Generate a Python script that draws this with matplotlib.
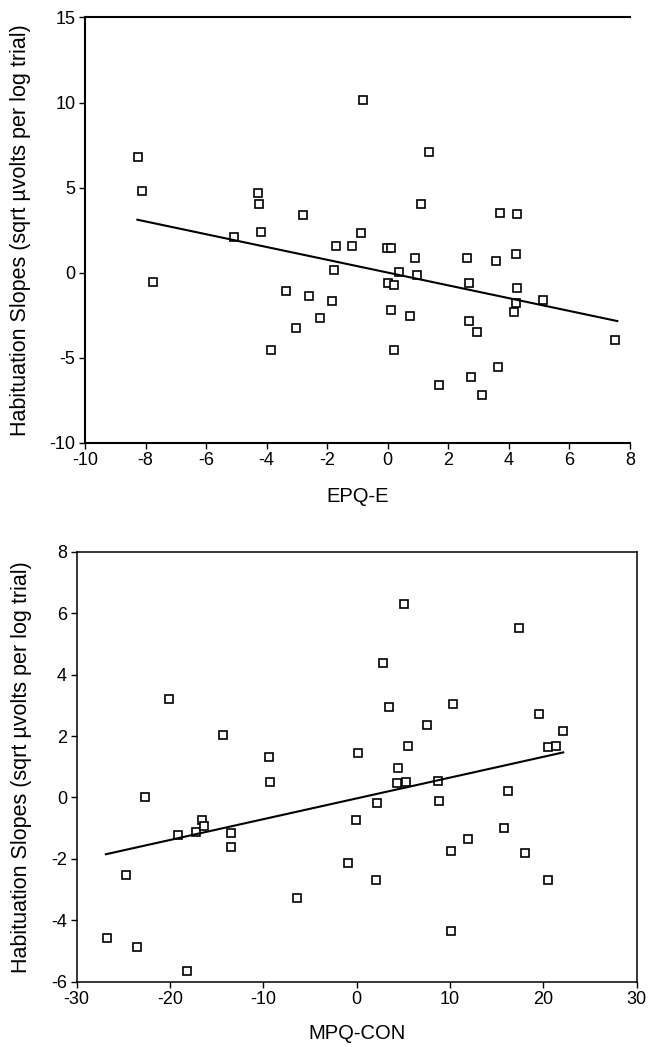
import numpy as np
import matplotlib
matplotlib.use('Agg')
import matplotlib.pyplot as plt

plt.rcParams['font.family'] = ['Liberation Sans', 'DejaVu Sans']
plt.rcParams['axes.unicode_minus'] = False

# top panel: EPQ-E vs habituation slope
epq_x = [-8.26, -8.13, -7.74, -5.09, -4.30, -4.25, -4.20, -3.87, -3.37, -3.04,
         -2.79, -2.60, -2.24, -1.85, -1.77, -1.72, -1.19, -0.88, -0.81, -0.04,
         0.09, 0.01, 0.22, 0.09, 0.22, 0.36, 0.73, 0.89, 0.95, 1.08,
         1.35, 1.68, 2.62, 2.68, 2.68, 2.76, 2.95, 3.10, 3.56, 3.65,
         3.71, 4.16, 4.22, 4.25, 4.27, 4.27, 5.12, 7.51]
epq_y = [6.80, 4.77, -0.57, 2.08, 4.69, 4.06, 2.38, -4.57, -1.06, -3.25,
         3.38, -1.35, -2.66, -1.65, 0.18, 1.59, 1.59, 2.30, 10.14, 1.47,
         1.43, -0.64, -0.74, -2.21, -4.57, 0.02, -2.57, 0.85, -0.17, 4.04,
         7.08, -6.59, 0.85, -0.64, -2.82, -6.15, -3.51, -7.18, 0.67, -5.55,
         3.49, -2.31, 1.10, -1.80, -0.90, 3.45, -1.63, -3.98]
# regression line (slope, intercept, x range)
epq_fit = [-0.376, 0.0]
epq_fit_range = [-8.27, 7.58]

# bottom panel: MPQ-CON vs habituation slope
mpq_x = [-26.74, -24.74, -23.56, -22.67, -20.06, -19.13, -18.17, -17.17, -16.53, -16.31,
         -14.31, -13.48, -13.48, -9.35, -9.27, -6.45, -0.91, -0.09, 0.10, 2.02,
         2.20, 2.81, 3.48, 4.34, 4.41, 5.09, 5.31, 5.45, 7.52, 8.74,
         8.77, 10.06, 10.06, 10.27, 11.88, 15.77, 16.24, 17.34, 18.06, 19.49,
         20.45, 20.49, 21.35, 22.06]
mpq_y = [-4.58, -2.54, -4.86, 0.02, 3.22, -1.21, -5.65, -1.14, -0.73, -0.94,
         2.02, -1.15, -1.62, 1.33, 0.49, -3.27, -2.13, -0.74, 1.44, -2.70,
         -0.18, 4.38, 2.96, 0.48, 0.96, 6.31, 0.52, 1.67, 2.37, 0.55,
         -0.13, -1.73, -4.36, 3.03, -1.35, -1.01, 0.21, 5.53, -1.82, 2.71,
         1.66, -2.70, 1.69, 2.17]
mpq_fit = [0.0677, -0.03]
mpq_fit_range = [-26.88, 22.13]

ylabel = 'Habituation Slopes (sqrt \u00b5volts per log trial)'

fig = plt.figure(figsize=(6.58, 10.47), dpi=100)
ax1 = fig.add_axes([0.1292, 0.5772, 0.8283, 0.4061])
ax2 = fig.add_axes([0.1166, 0.0624, 0.8510, 0.4105])


def draw_panel(ax, x, y, fit, fit_range, xlim, ylim, xticks, yticks, xlabel,
               spine_w, ypad, xpad):
    # open square markers
    ax.plot(x, y, linestyle='none', marker='s', markersize=5.5,
            markerfacecolor='white', markeredgecolor='black', markeredgewidth=1.2)
    # fitted line
    xs = np.array(fit_range)
    ax.plot(xs, fit[0] * xs + fit[1], color='black', linewidth=1.5)
    ax.set_xlim(xlim)
    ax.set_ylim(ylim)
    ax.set_xticks(xticks)
    ax.set_yticks(yticks)
    ax.tick_params(direction='out', length=4, width=1, labelsize=13, pad=3)
    ax.set_xlabel(xlabel, fontsize=14.5, labelpad=xpad)
    ax.set_ylabel(ylabel, fontsize=15.5, labelpad=ypad)
    for s in ax.spines.values():
        s.set_linewidth(spine_w)


draw_panel(ax1, epq_x, epq_y, epq_fit, epq_fit_range, (-10, 8), (-10, 15),
           np.arange(-10, 9, 2), np.arange(-10, 16, 5), 'EPQ-E', 1.5, 13, 13)
ax1.spines['right'].set_visible(False)

draw_panel(ax2, mpq_x, mpq_y, mpq_fit, mpq_fit_range, (-30, 30), (-6, 8),
           np.arange(-30, 31, 10), np.arange(-6, 9, 2), 'MPQ-CON', 1.1, 14, 11)

fig.savefig('out.png', dpi=100)
